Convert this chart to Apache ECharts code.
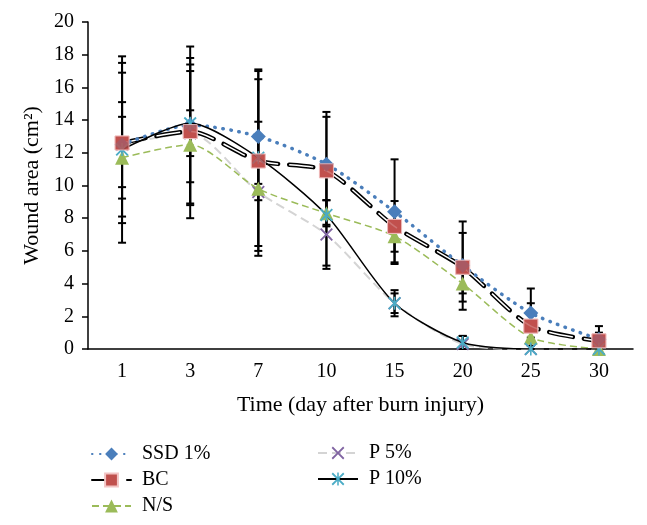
<!DOCTYPE html>
<html>
<head>
<meta charset="utf-8">
<script src="https://cdn.jsdelivr.net/npm/echarts@6.0.0/dist/echarts.min.js"></script>
<style>
  html, body { margin: 0; padding: 0; background: #fff; }
  #chart { width: 647px; height: 525px; }
</style>
</head>
<body>
<div id="chart"></div>
<script>
// days after burn injury
var days = ["1", "3", "7", "10", "15", "20", "25", "30"];
var yTicks = { min: 0, max: 20, step: 2 };

// wound area (cm2) per group
var ssd = [12.5, 13.7, 13.0, 11.3, 8.4, 5.1, 2.2, 0.6];
var bc = [12.6, 13.3, 11.5, 10.9, 7.5, 5.0, 1.4, 0.5];
var ns = [11.7, 12.5, 9.8, 8.3, 6.9, 4.0, 0.7, 0.0];
var p5 = [12.5, 13.2, 9.6, 7.0, 2.8, 0.3, 0.0, 0.0];
var p10 = [12.2, 13.8, 11.7, 8.2, 2.8, 0.4, 0.0, 0.0];

// error bars (+/-)
var ssdErr = [4.4, 4.8, 3.5, 3.2, 3.2, 2.7, 1.5, 0.8];
var bcErr = [4.9, 4.5, 5.5, 3.3, 1.55, 2.1, 1.4, 0.5];
var nsErr = [2.5, 4.5, 4.1, 0.8, 1.6, 0.6, 0.5, 0.1];
var p5Err = [2.6, 1.4, 0.5, 2.1, 0.6, 0.5, 0.0, 0.0];
var p10Err = [5.7, 3.6, 5.4, 3.1, 0.8, 0.4, 0.0, 0.0];

var serif = "Liberation Serif";

var xMark = "path://M0,1 L1,0 L5,4 L9,0 L10,1 L6,5 L10,9 L9,10 L5,6 L1,10 L0,9 L4,5 Z";
var starMark = "path://M0,1 L1,0 L5,4 L9,0 L10,1 L6,5 L10,9 L9,10 L5,6 L1,10 L0,9 L4,5 Z M4.4,0 L5.6,0 L5.6,10 L4.4,10 Z";

function errData(vals, errs) {
  return vals.map(function (v, i) {
    return [i, Math.max(v - errs[i], 0), v + errs[i]];
  });
}

var allErr = []
  .concat(errData(ssd, ssdErr))
  .concat(errData(bc, bcErr))
  .concat(errData(ns, nsErr))
  .concat(errData(p5, p5Err))
  .concat(errData(p10, p10Err));

var legendText = { fontFamily: serif, fontSize: 20, color: "#000", padding: [0, 0, 0, 6] };

var chart = echarts.init(document.getElementById("chart"));

chart.setOption({
  animation: false,
  grid: { left: 88, right: 14, top: 22, bottom: 176 },
  legend: [
    {
      orient: "vertical",
      left: 86,
      top: 439,
      itemWidth: 39,
      itemHeight: 16,
      itemGap: 6,
      textStyle: legendText,
      data: ["SSD 1%", "BC", "N/S"]
    },
    {
      orient: "vertical",
      left: 312,
      top: 438,
      itemWidth: 40,
      itemHeight: 16,
      itemGap: 6,
      textStyle: legendText,
      data: ["P 5%", "P 10%"]
    }
  ],
  xAxis: {
    type: "category",
    data: days,
    boundaryGap: true,
    name: "Time (day after burn injury)",
    nameLocation: "middle",
    nameGap: 45,
    nameTextStyle: { fontFamily: serif, fontSize: 22, color: "#000" },
    axisLine: { lineStyle: { color: "#000", width: 1.5 } },
    axisTick: { length: 6, lineStyle: { color: "#000", width: 1.5 } },
    axisLabel: { fontFamily: serif, fontSize: 20, color: "#000", margin: 13 },
    splitLine: { show: false }
  },
  yAxis: {
    type: "value",
    min: yTicks.min,
    max: yTicks.max,
    interval: yTicks.step,
    name: "Wound area (cm²)",
    nameLocation: "middle",
    nameGap: 45,
    nameRotate: 90,
    nameTextStyle: { fontFamily: serif, fontSize: 22, color: "#000" },
    axisLine: { show: true, lineStyle: { color: "#000", width: 1.5 } },
    axisTick: { show: true, length: 6, lineStyle: { color: "#000", width: 1.5 } },
    axisLabel: { fontFamily: serif, fontSize: 20, color: "#000", margin: 14 },
    splitLine: { show: false }
  },
  series: [
    {
      type: "custom",
      name: "err",
      z: 1,
      data: allErr,
      encode: { x: 0, y: [1, 2] },
      renderItem: function (params, api) {
        var top = api.coord([api.value(0), api.value(2)]);
        var bot = api.coord([api.value(0), api.value(1)]);
        var w = 4;
        var st = { stroke: "#000", lineWidth: 2 };
        return {
          type: "group",
          children: [
            { type: "line", shape: { x1: top[0], y1: top[1], x2: bot[0], y2: bot[1] }, style: st },
            { type: "line", shape: { x1: top[0] - w, y1: top[1], x2: top[0] + w, y2: top[1] }, style: st },
            { type: "line", shape: { x1: bot[0] - w, y1: bot[1], x2: bot[0] + w, y2: bot[1] }, style: st }
          ]
        };
      }
    },
    {
      name: "P 5%",
      type: "line",
      z: 2,
      data: p5,
      smooth: 0.25,
      symbol: xMark,
      symbolSize: 13,
      itemStyle: { color: "#8064a2" },
      lineStyle: { color: "#d4d4d4", width: 2, type: [9, 5] }
    },
    {
      name: "N/S",
      type: "line",
      z: 3,
      data: ns,
      smooth: 0.25,
      symbol: "triangle",
      symbolSize: 14,
      itemStyle: { color: "#9bbb59" },
      lineStyle: { color: "#9bbb59", width: 1.5, type: [7, 4] }
    },
    {
      name: "BC",
      type: "line",
      z: 4,
      data: bc,
      smooth: 0.25,
      symbol: "rect",
      symbolSize: 14,
      itemStyle: { color: "#c0504d", borderColor: "#f2c4c4", borderWidth: 1 },
      lineStyle: { color: "#000", width: 4.5, type: [24, 11], cap: "round" }
    },
    {
      name: "BC inner",
      type: "line",
      z: 5,
      data: bc,
      smooth: 0.25,
      showSymbol: false,
      silent: true,
      lineStyle: { color: "#fff", width: 1.5, type: [24, 11] }
    },
    {
      name: "SSD 1%",
      type: "line",
      z: 6,
      data: ssd,
      smooth: 0.25,
      symbol: "diamond",
      symbolSize: 15,
      itemStyle: { color: "#4a7ebb" },
      lineStyle: { color: "#4a7ebb", width: 3.5, type: [0.5, 7.5], cap: "round" }
    },
    {
      name: "P 10%",
      type: "line",
      z: 7,
      data: p10,
      smooth: 0.25,
      symbol: starMark,
      symbolSize: 13,
      itemStyle: { color: "#4bacc6" },
      lineStyle: { color: "#000", width: 1.5 }
    },
    {
      name: "BC marks",
      type: "scatter",
      z: 8,
      data: bc,
      symbol: "rect",
      symbolSize: 14,
      silent: true,
      itemStyle: { color: "#c0504d", borderColor: "#f2c4c4", borderWidth: 1 }
    }
  ]
});
</script>
</body>
</html>
